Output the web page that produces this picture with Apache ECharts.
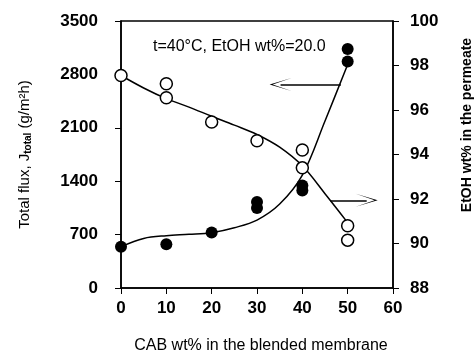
<!DOCTYPE html>
<html>
<head>
    <meta charset="utf8">
    <title>ECharts</title>
    <script src="https://cdn.jsdelivr.net/npm/echarts@6/dist/echarts.min.js"></script>
</head>
<body style="margin:0">
    <div id="main" style="width: 475px;height:359px;"></div>
    <script type="text/javascript">
        // measured points: total flux (filled) and EtOH wt% (open)
        var fluxX = [0, 10, 20, 30, 30, 40, 40, 50, 50];
        var fluxY = [542, 575, 729, 1128, 1050, 1344, 1279, 3132, 2970];
        var etohX = [0, 10, 10, 20, 30, 40, 40, 50, 50];
        var etohY = [97.55, 97.18, 96.55, 95.46, 94.62, 94.2, 93.4, 90.8, 90.15];
        // fitted curves
        var fitX = [0, 5, 10, 15, 20, 25, 30, 35, 40, 45, 50];
        var fluxFit = [542, 650, 686, 703, 725, 790, 890, 1100, 1480, 2190, 2930];
        var etohFit = [97.55, 96.99, 96.51, 96.13, 95.72, 95.32, 94.9, 94.33, 93.49, 92.24, 90.94];
        var note = 't=40°C, EtOH wt%=20.0';

        function pairs(xs, ys) {
            var out = [];
            for (var i = 0; i < xs.length; i++) out.push([xs[i], ys[i]]);
            return out;
        }

        var myChart = echarts.init(document.getElementById('main'));
        var font = 'Liberation Sans';
        var arrowHead = 'path://M5,0 L10,14 L5,2 L0,14 Z';
        var plain = function (v) { return String(v); };

        option = {
            backgroundColor: '#fff',
            animation: false,
            textStyle: { fontFamily: font },
            grid: { left: 121, right: 82, top: 21, bottom: 69, show: true, borderColor: '#000', borderWidth: 1.5 },
            graphic: [{
                type: 'text', left: 153, top: 39,
                style: { text: note, font: '16px "Liberation Sans"', fill: '#000' }
            }, {
                type: 'text', x: 467, y: 125, rotation: Math.PI / 2,
                style: { text: 'EtOH wt% in the permeate', font: 'bold 14px "Liberation Sans"', fill: '#000', align: 'center', verticalAlign: 'middle' }
            }],
            xAxis: {
                type: 'value', min: 0, max: 60, interval: 10,
                name: 'CAB wt% in the blended membrane',
                nameLocation: 'middle', nameGap: 50,
                nameTextStyle: { fontSize: 16, color: '#000', fontFamily: font, padding: [0, 0, 0, 8] },
                axisLine: { lineStyle: { color: '#000', width: 1.5 } },
                axisTick: { inside: false, length: 6, lineStyle: { color: '#000' } },
                axisLabel: { fontSize: 17, fontWeight: 'bold', color: '#000', margin: 12, formatter: plain },
                splitLine: { show: false }
            },
            yAxis: [{
                type: 'value', min: 0, max: 3500, interval: 700,
                name: '{a|Total flux, J}{s|total}{a| (g/m²h)}',
                nameLocation: 'middle', nameGap: 88, nameRotate: 90,
                nameTextStyle: {
                    color: '#000',
                    rich: {
                        a: { fontSize: 15, fontFamily: font, color: '#000' },
                        s: { fontSize: 10, fontWeight: 'bold', fontFamily: font, color: '#000', verticalAlign: 'bottom', padding: [7, 0, 0, 0] }
                    }
                },
                axisLine: { show: true, lineStyle: { color: '#000', width: 1.5 } },
                axisTick: { show: true, length: 6, lineStyle: { color: '#000' } },
                axisLabel: { fontSize: 17, fontWeight: 'bold', color: '#000', margin: 23, formatter: plain },
                splitLine: { show: false }
            }, {
                type: 'value', min: 88, max: 100, interval: 2,
                axisLine: { show: true, lineStyle: { color: '#000', width: 1.5 } },
                axisTick: { show: true, length: 6, lineStyle: { color: '#000' } },
                axisLabel: { fontSize: 17, fontWeight: 'bold', color: '#000', margin: 17, formatter: plain },
                splitLine: { show: false }
            }],
            series: [{
                type: 'line', yAxisIndex: 0, smooth: 0.35, showSymbol: false,
                data: pairs(fitX, fluxFit),
                lineStyle: { color: '#000', width: 1.5 },
                markLine: {
                    silent: true, symbol: ['none', arrowHead], symbolSize: [13, 22],
                    label: { show: false },
                    lineStyle: { color: '#000', width: 1.5, type: 'solid' },
                    data: [
                        [{ coord: [48.5, 2667] }, { coord: [35.2, 2667] }],
                        [{ coord: [46.2, 1149] }, { coord: [54.2, 1149] }]
                    ]
                }
            }, {
                type: 'line', yAxisIndex: 1, smooth: 0.35, showSymbol: false,
                data: pairs(fitX, etohFit),
                lineStyle: { color: '#000', width: 1.5 }
            }, {
                type: 'scatter', yAxisIndex: 0, z: 5,
                data: pairs(fluxX, fluxY),
                symbol: 'circle', symbolSize: 12,
                itemStyle: { color: '#000', opacity: 1 }
            }, {
                type: 'scatter', yAxisIndex: 1, z: 6,
                data: pairs(etohX, etohY),
                symbol: 'circle', symbolSize: 12,
                itemStyle: { color: '#fff', borderColor: '#000', borderWidth: 1.5, opacity: 1 }
            }]
        };
        myChart.setOption(option);
    </script>
</body>
</html>
